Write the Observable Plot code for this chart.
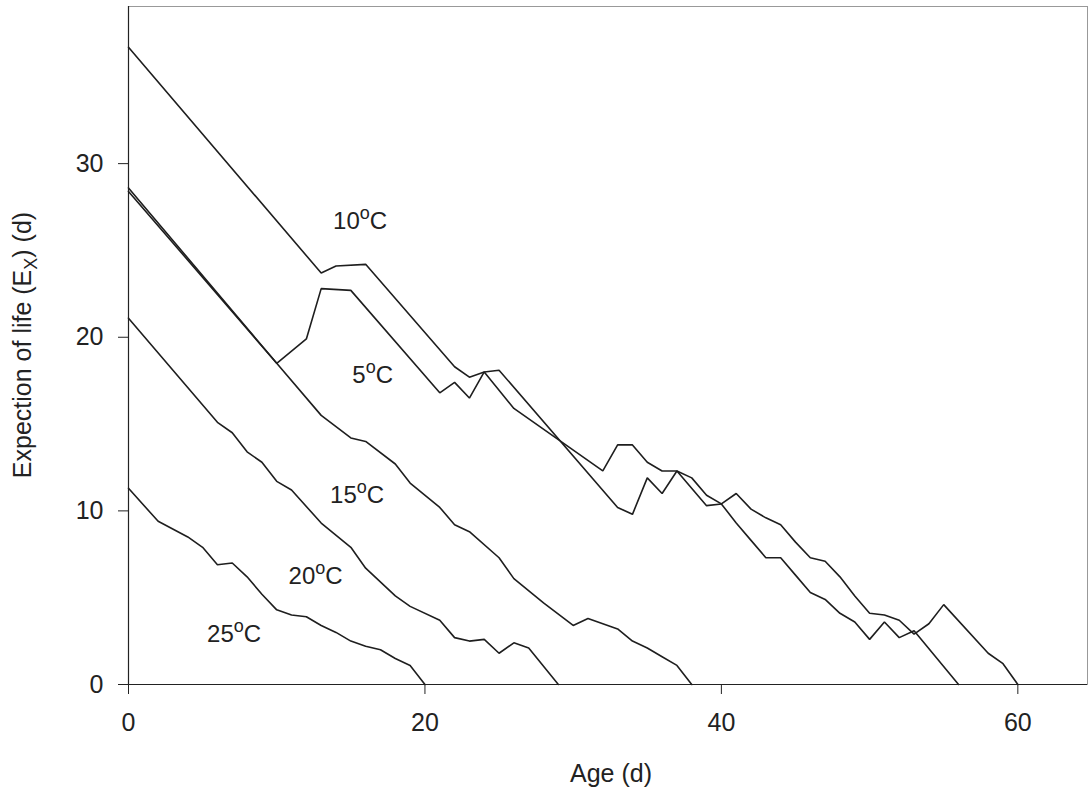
<!DOCTYPE html>
<html>
<head>
<meta charset="utf-8">
<script src="https://cdn.jsdelivr.net/npm/d3@7"></script>
<script src="https://cdn.jsdelivr.net/npm/@observablehq/plot@0.6"></script>
<style>
  body { margin: 0; background: #fff; }
  svg { display: block; }
</style>
</head>
<body>
<div id="chart"></div>
<script>
// ---- data ----
const temps = ["10°C", "5°C", "15°C", "20°C", "25°C"];

const days10 = [0,13,14,16,22,23,24,25,33,34,35,36,37,39,40,41,42,43,44,45,46,47,48,49,50,51,52,53,54,55,58,59,60];
const ex10   = [36.7,23.7,24.1,24.2,18.3,17.7,18.0,18.1,10.2,9.8,11.9,11.0,12.3,10.3,10.4,11.0,10.1,9.6,9.2,8.2,7.3,7.1,6.2,5.1,4.1,4.0,3.7,2.9,3.5,4.6,1.8,1.2,0];

const days5 = [0,10,12,13,15,21,22,23,24,26,32,33,34,35,36,37,38,39,40,41,42,43,44,45,46,47,48,49,50,51,52,53,56];
const ex5   = [28.4,18.5,19.9,22.8,22.7,16.8,17.4,16.5,18.0,15.9,12.3,13.8,13.8,12.8,12.3,12.3,11.9,10.9,10.4,9.3,8.3,7.3,7.3,6.3,5.3,4.9,4.1,3.6,2.6,3.6,2.7,3.1,0];

const days15 = [0,10,13,15,16,18,19,21,22,23,25,26,28,30,31,33,34,35,36,37,38];
const ex15   = [28.6,18.5,15.5,14.2,14.0,12.7,11.6,10.2,9.2,8.8,7.3,6.1,4.7,3.4,3.8,3.2,2.5,2.1,1.6,1.1,0];

const days20 = [0,6,7,8,9,10,11,13,15,16,18,19,21,22,23,24,25,26,27,29];
const ex20   = [21.1,15.1,14.5,13.4,12.8,11.7,11.2,9.3,7.9,6.7,5.1,4.5,3.7,2.7,2.5,2.6,1.8,2.4,2.1,0];

const days25 = [0,2,4,5,6,7,8,9,10,11,12,13,14,15,16,17,18,19,20];
const ex25   = [11.3,9.4,8.5,7.9,6.9,7.0,6.2,5.2,4.3,4.0,3.9,3.4,3.0,2.5,2.2,2.0,1.5,1.1,0];

// label positions (data coordinates, left edge / middle of text)
const labelX = [13.8, 15.1, 13.6, 10.8, 5.3];
const labelY = [26.7, 17.8, 10.9, 6.25, 2.9];

const xTicks = [0, 20, 40, 60];
const yTicks = [0, 10, 20, 30];
const xLabel = "Age (d)";

// ---- build table ----
const seriesDays = [days10, days5, days15, days20, days25];
const seriesEx = [ex10, ex5, ex15, ex20, ex25];
const rows = [];
temps.forEach((t, i) => {
  seriesDays[i].forEach((d, j) => rows.push({temp: t, day: d, ex: seriesEx[i][j]}));
});
const labels = temps.map((t, i) => ({text: t, x: labelX[i], y: labelY[i]}));

const FONT = "'Liberation Sans', Arial, Helvetica, sans-serif";

const chart = Plot.plot({
  width: 1088,
  height: 792,
  marginLeft: 128,
  marginRight: 1,
  marginTop: 6,
  marginBottom: 108,
  style: {fontSize: "25px", fontFamily: FONT, color: "#222", background: "#fff"},
  x: {domain: [0, 64.7]},
  y: {domain: [0, 39.05]},
  marks: [
    Plot.frame({stroke: "#999", strokeWidth: 1}),
    Plot.axisX({ticks: xTicks, tickSize: 10, tickPadding: 19, label: null, tickFormat: d => String(d)}),
    Plot.axisY({ticks: yTicks, tickSize: 10, tickPadding: 15, label: null, tickFormat: d => String(d)}),
    Plot.ruleX([0], {stroke: "#222", strokeWidth: 1.2}),
    Plot.ruleY([0], {stroke: "#222", strokeWidth: 1.2}),
    Plot.line(rows, {x: "day", y: "ex", z: "temp", stroke: "#1e1e1e", strokeWidth: 1.6, strokeLinejoin: "miter"}),
    Plot.text(labels, {x: "x", y: "y", text: "text", textAnchor: "start", fontSize: 24, fill: "#222"})
  ]
});

document.getElementById("chart").appendChild(chart);

// superscript "o" in temperature labels
const svg = d3.select(chart);
svg.selectAll('g[aria-label="text"] text').each(function() {
  const t = this.textContent;
  const parts = t.split("°");
  if (parts.length !== 2) return;
  const el = d3.select(this);
  el.text(null);
  el.append("tspan").text(parts[0]);
  el.append("tspan").attr("dy", "-10").attr("font-size", 18).text("o");
  el.append("tspan").attr("dy", "10").text(parts[1]);
});

// axis titles
svg.append("text")
  .attr("x", 611).attr("y", 782)
  .attr("text-anchor", "middle")
  .attr("font-size", 25).attr("fill", "#222")
  .attr("font-family", FONT)
  .text(xLabel);

const yl = svg.append("text")
  .attr("transform", "translate(31,345) rotate(-90)")
  .attr("text-anchor", "middle")
  .attr("font-size", 25).attr("fill", "#222")
  .attr("font-family", FONT);
yl.append("tspan").text("Expection of life (E");
yl.append("tspan").attr("dy", 6).attr("font-size", 18).text("X");
yl.append("tspan").attr("dy", -6).text(") (d)");
</script>
</body>
</html>
